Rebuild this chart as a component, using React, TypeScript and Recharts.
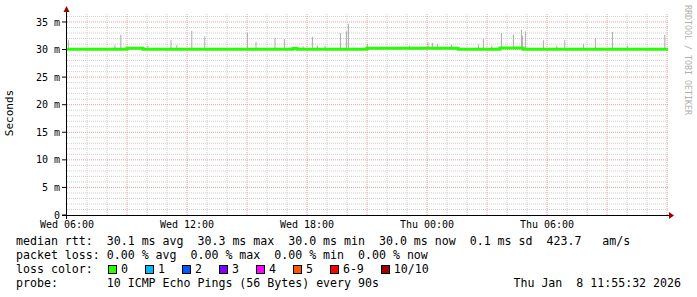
import React from "react";
import {
  ComposedChart,
  Line,
  Scatter,
  ErrorBar,
  XAxis,
  YAxis,
  ReferenceLine,
} from "recharts";

// median rtt (ms), step changes over time (hours since Wed 00:00)
const medianHours = [6, 9.0, 9.8, 17.3, 17.5, 21.0, 25.55, 27.65, 28.8, 36.05];
const medianMs = [30.05, 30.25, 30.05, 30.2, 30.05, 30.25, 30.05, 30.3, 30.05, 30.05];

// smoke spikes: time (h) and top of the ping spread (ms)
const spikeHours = [
  6.07, 8.4, 8.69, 10.05, 11.2, 11.49, 12.24, 12.89, 15.02, 15.45, 16.4, 16.87,
  17.8, 18.27, 18.52, 18.9, 19.67, 19.97, 20.07, 21.02, 23.12, 24.05, 24.27,
  24.52, 25.22, 26.57, 26.82, 27.24, 27.72, 28.32, 28.72, 28.77, 28.92, 29.82,
  30.49, 30.89, 31.82, 32.42, 33.27, 34.02, 35.89,
];
const spikeTopMs = [
  31.7, 30.8, 32.7, 30.7, 31.7, 30.8, 33.4, 32.4, 33.0, 31.4, 32.1, 31.9,
  30.6, 32.3, 30.7, 30.7, 33.0, 33.3, 34.7, 31.0, 30.7, 31.3, 31.2,
  31.0, 30.9, 30.9, 31.9, 30.7, 33.0, 32.7, 33.6, 32.5, 33.3, 31.7,
  30.7, 31.7, 31.0, 32.1, 33.2, 30.7, 32.7,
];

const xTicks = [6, 12, 18, 24, 30];
const xTickLabels = ["Wed 06:00", "Wed 12:00", "Wed 18:00", "Thu 00:00", "Thu 06:00"];
const yTicks = [0, 5, 10, 15, 20, 25, 30, 35];

const lossLabels = ["0", "1", "2", "3", "4", "5", "6-9", "10/10"];
const lossColors = ["#26ff00", "#00b8ff", "#0059ff", "#7e00ff", "#ff00ff", "#ff5500", "#ff0000", "#a10000"];

const SMOKE_BASE = 30.1;

const medianData = medianHours.map((t, i) => ({ t, v: medianMs[i] }));
const spikeData = spikeHours.map((t, i) => ({
  t,
  y: SMOKE_BASE,
  err: [0, spikeTopMs[i] - SMOKE_BASE],
}));

const X_MAX = 36.05;
const Y_MAX = 36.63;
const hourLines = Array.from({ length: 30 }, (_, i) => 7 + i);
const msLines = Array.from({ length: 36 }, (_, i) => 1 + i);

const mono = "'DejaVu Sans Mono', monospace";

export default function App() {
  return (
    <div
      style={{
        position: "absolute",
        left: 0,
        top: 0,
        width: 697,
        height: 297,
        background: "#fff",
        fontFamily: mono,
        overflow: "hidden",
      }}
    >
      <ComposedChart
        width={697}
        height={297}
        margin={{ top: 13, right: 29, bottom: 62, left: 0 }}
      >
        <XAxis
          dataKey="t"
          type="number"
          domain={[6, X_MAX]}
          ticks={xTicks}
          tickFormatter={(v: number) => xTickLabels[xTicks.indexOf(v)] ?? ""}
          axisLine={false}
          tickLine={false}
          tickSize={6}
          tickMargin={0}
          height={20}
          allowDataOverflow
          tick={{ fontSize: 10, fill: "#000", fontFamily: mono }}
        />
        <YAxis
          type="number"
          domain={[0, Y_MAX]}
          ticks={yTicks}
          tickFormatter={(v: number) => (v === 0 ? "0" : `${v} m`)}
          axisLine={false}
          tickLine={{ stroke: "#000" }}
          tickSize={5}
          tickMargin={2}
          width={67}
          allowDataOverflow
          tick={{ fontSize: 10, fill: "#000", fontFamily: mono }}
        />
        {msLines
          .filter((m) => m % 5 !== 0)
          .map((m) => (
            <ReferenceLine key={`hm${m}`} y={m} stroke="#cfcfcf" strokeDasharray="1 1" />
          ))}
        {hourLines
          .filter((h) => h % 3 !== 0)
          .map((h) => (
            <ReferenceLine key={`vm${h}`} x={h} stroke="#cfcfcf" strokeDasharray="1 1" />
          ))}
        {msLines
          .filter((m) => m % 5 === 0)
          .map((m) => (
            <ReferenceLine key={`hM${m}`} y={m} stroke="#e8a0a0" strokeDasharray="1 1" />
          ))}
        {hourLines
          .filter((h) => h % 3 === 0)
          .map((h) => (
            <ReferenceLine key={`vM${h}`} x={h} stroke="#e8a0a0" strokeDasharray="1 1" />
          ))}
        <Scatter
          data={spikeData}
          dataKey="y"
          shape={() => <g />}
          isAnimationActive={false}
        >
          <ErrorBar dataKey="err" direction="y" width={0} stroke="#aaaaaa" strokeWidth={1} />
        </Scatter>
        <Line
          data={medianData}
          dataKey="v"
          type="stepAfter"
          stroke="#26ff00"
          strokeWidth={3}
          dot={false}
          isAnimationActive={false}
        />
      </ComposedChart>

      <svg
        width={697}
        height={297}
        style={{ position: "absolute", left: 0, top: 0, pointerEvents: "none" }}
      >
        <line x1={62} y1={215.5} x2={671} y2={215.5} stroke="#000" />
        <line x1={66.5} y1={219} x2={66.5} y2={10} stroke="#000" />
        <polygon points="669,212 669,219 674,215.5" fill="#a00000" />
        <polygon points="63.5,12 69.5,12 66.5,6" fill="#a00000" />
        <text
          x={13}
          y={113}
          transform="rotate(-90 13 113)"
          textAnchor="middle"
          fontSize={11}
          fontFamily={mono}
          fill="#000"
        >
          Seconds
        </text>
        <text
          x={685}
          y={5}
          transform="rotate(90 685 5)"
          fontSize={8.3}
          fontFamily={mono}
          fill="#b0b0b0"
        >
          RRDTOOL / TOBI OETIKER
        </text>
      </svg>

      <div
        style={{
          position: "absolute",
          left: 16,
          top: 234,
          fontSize: 11.6,
          lineHeight: "14px",
          whiteSpace: "pre",
          color: "#000",
        }}
      >
        <div>median rtt:  30.1 ms avg  30.3 ms max  30.0 ms min  30.0 ms now  0.1 ms sd  423.7   am/s</div>
        <div>packet loss: 0.00 % avg  0.00 % max  0.00 % min  0.00 % now</div>
        <div style={{ display: "flex", alignItems: "center" }}>
          <span style={{ width: 92, display: "inline-block" }}>loss color:</span>
          {lossLabels.map((l, i) => (
            <span key={l} style={{ display: "inline-flex", alignItems: "center", marginRight: 17 }}>
              <span
                style={{
                  display: "inline-block",
                  width: 7,
                  height: 7,
                  background: lossColors[i],
                  border: "1px solid #000",
                  marginRight: 4,
                }}
              />
              {l}
            </span>
          ))}
        </div>
        <div>probe:       10 ICMP Echo Pings (56 Bytes) every 90s</div>
      </div>
      <div
        style={{
          position: "absolute",
          right: 16,
          top: 276,
          fontSize: 11.6,
          lineHeight: "14px",
          whiteSpace: "pre",
          color: "#000",
        }}
      >
        Thu Jan  8 11:55:32 2026
      </div>
    </div>
  );
}
